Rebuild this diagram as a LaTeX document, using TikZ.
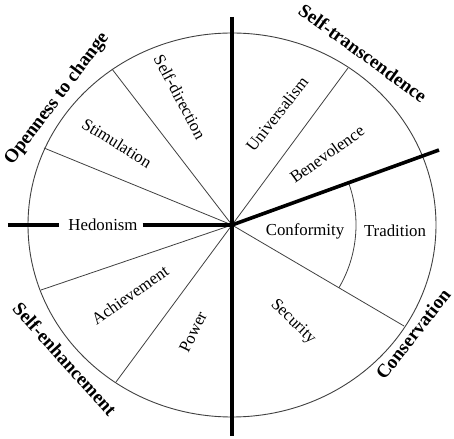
\documentclass[tikz,border=0pt]{standalone}
\usepackage{fontspec}
\setmainfont{Liberation Serif}
\usetikzlibrary{positioning}

\begin{document}
\begin{tikzpicture}[
    x=1pt, y=1pt,
    value/.style={font=\fontsize{16.8}{19}\selectfont, inner sep=0pt, rotate=#1},
    value/.default=0,
    region/.style={font=\fontsize{19}{22}\selectfont\bfseries, inner sep=0pt, rotate=#1},
    rim/.style={draw=black!75, line width=0.9pt},
    divider/.style={draw=black!75, line width=0.8pt},
    axis/.style={draw=black, line width=3.6pt},
]
\useasboundingbox (-232,-213) rectangle (222,225);

% Centre and points on the rim
\coordinate (c) at (0,0);
\coordinate (sdir) at (-120,156);
\coordinate (hedr) at (-188,77);
\coordinate (univ) at (116,157);
\coordinate (achr) at (-191,-65);
\coordinate (powr) at (-116,-157);
\coordinate (secr) at (172,-101);

% Axis ends
\coordinate (top) at (0,208);
\coordinate (bot) at (0,-211);
\coordinate (lft) at (-224,0);
\coordinate (slt) at (207,75);

% Outer ring
\draw[rim] (c) ellipse [x radius=204, y radius=192];

% Thin dividers
\foreach \p in {sdir,hedr,univ,achr,powr,secr}
    \draw[divider] (c) -- (\p);
\draw[divider] (20:124) arc [start angle=20, end angle=-30.4, radius=124];

% Values
\node[value=-62] (sd) at (-52,128) {Self-direction};
\node[value=-32] (st) at (-115,82) {Stimulation};
\node[value] (he) at (-129,0) {Hedonism};
\node[value=35] (ac) at (-102,-70) {Achievement};
\node[value=64] (po) at (-39,-107) {Power};
\node[value=52] (un) at (45,111) {Universalism};
\node[value=35.5] (be) at (95,71) {Benevolence};
\node[value] (co) at (73,-6) {Conformity};
\node[value] (tr) at (163,-6) {Tradition};
\node[value=-44] (se) at (61,-97) {Security};

% Thick axes
\draw[axis] (top) -- (bot);
\draw[axis, shorten >=9pt] (lft) -- (he.west);
\draw[axis, shorten <=5pt] (he.east) -- (c);
\draw[axis] (c) -- (slt);

% Higher order groups
\node[region=53] (open) at (-175,126) {Openness to change};
\node[region=-36] (trans) at (131,172) {Self-transcendence};
\node[region=-48] (enh) at (-167,-134) {Self-enhancement};
\node[region=52] (cons) at (181,-109) {Conservation};

\end{tikzpicture}
\end{document}
